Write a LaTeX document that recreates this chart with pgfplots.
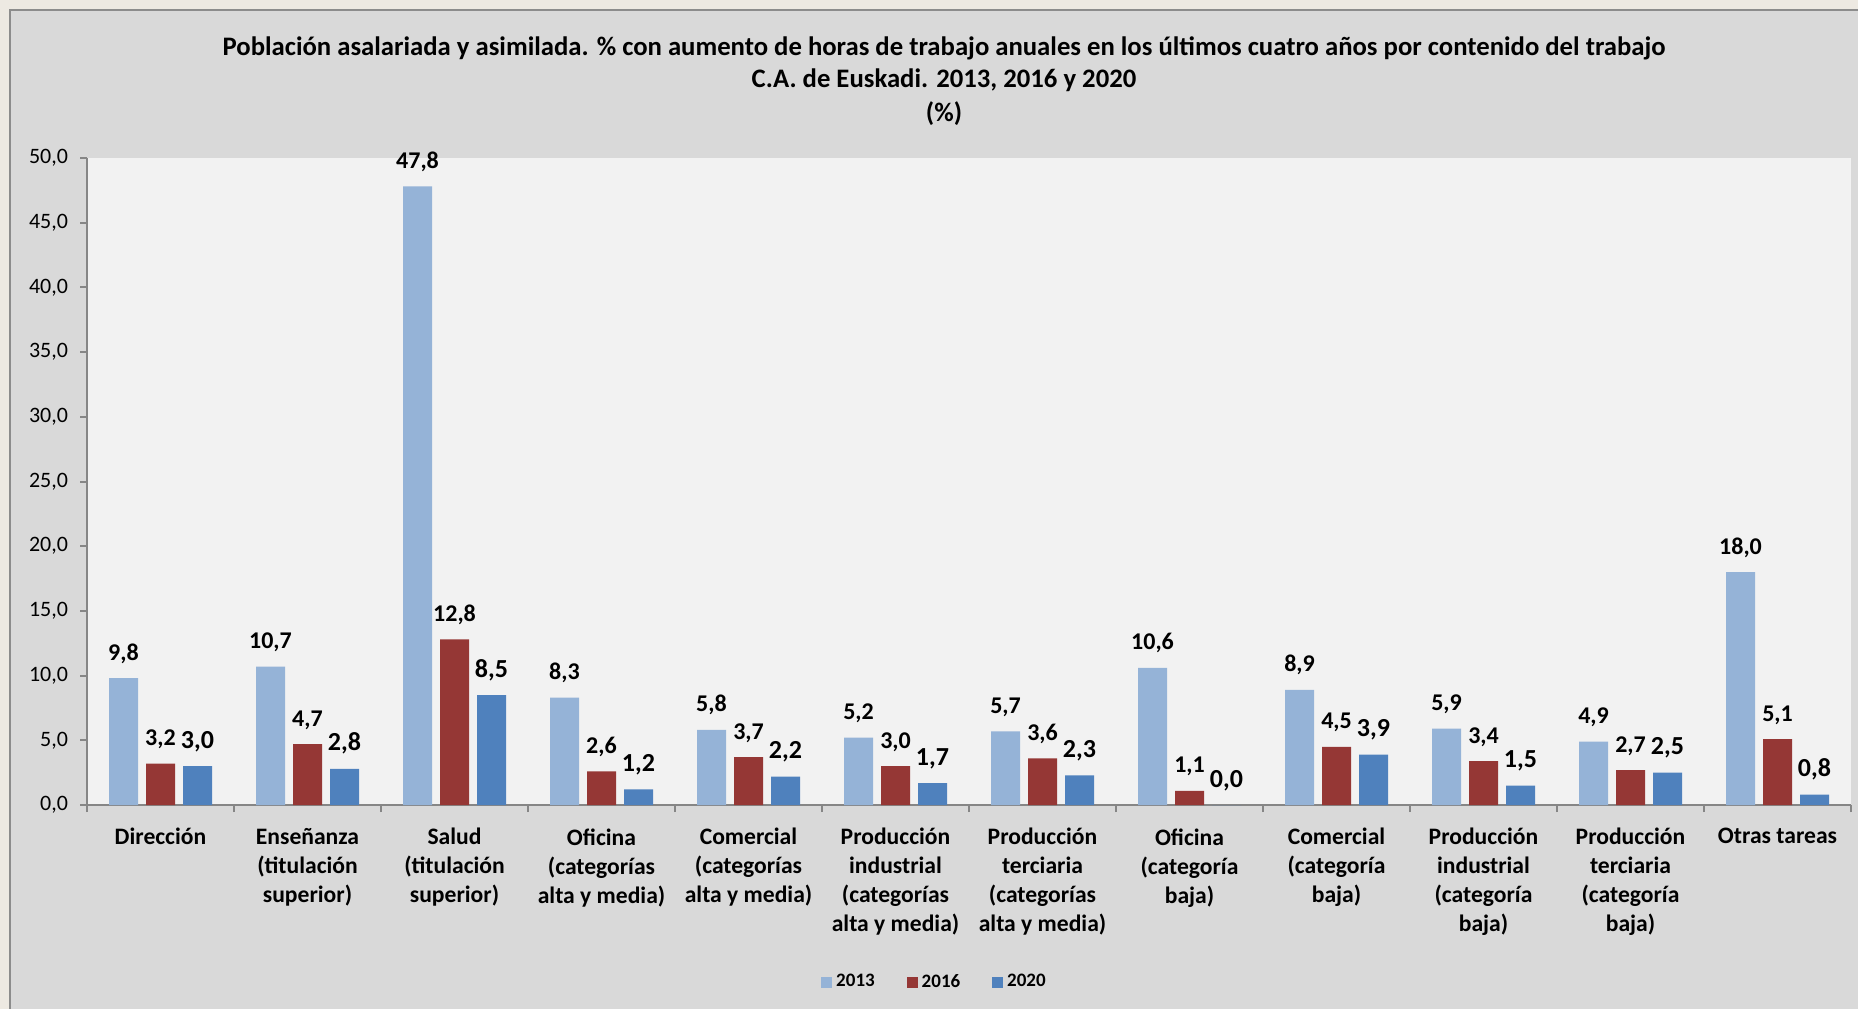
\documentclass[border=0pt]{standalone}
\usepackage{pgfplots}
\pgfplotsset{compat=1.18}
\usepackage{fontspec}
\setmainfont{Carlito}

\definecolor{pagebg}{HTML}{EDE9E2}
\definecolor{chartbg}{HTML}{D9D9D9}
\definecolor{framegray}{HTML}{8C8C8C}
\definecolor{plotbg}{HTML}{F2F2F2}
\definecolor{axisgray}{HTML}{868686}
\definecolor{c2013}{HTML}{95B3D7}
\definecolor{c2016}{HTML}{953735}
\definecolor{c2020}{HTML}{4F81BD}

\begin{document}
\begin{tikzpicture}
% page and chart area (1 px of the reference = 0.5bp)
\fill[pagebg] (0,0) rectangle (929bp,-504.5bp);
\filldraw[fill=chartbg, draw=framegray, line width=1bp] (5bp,-5bp) rectangle (940bp,-520bp);

\node[anchor=base, font=\bfseries\fontsize{13.35bp}{15bp}\selectfont] at (472bp,-27.5bp)
  {Población asalariada y asimilada. \% con aumento de horas de trabajo anuales en los últimos cuatro años por contenido del trabajo};
\node[anchor=base, font=\bfseries\fontsize{13.35bp}{15bp}\selectfont] at (472bp,-43.7bp)
  {C.A. de Euskadi. 2013, 2016 y 2020};
\node[anchor=base, font=\bfseries\fontsize{13.35bp}{15bp}\selectfont] at (472bp,-60.9bp)
  {(\%)};

\begin{axis}[
  at={(43.5bp,-402.5bp)}, anchor=south west,
  scale only axis, width=882bp, height=323.5bp,
  ybar=4bp, bar width=14.5bp,
  xmin=-0.5, xmax=11.5, ymin=0, ymax=50,
  axis lines*=left,
  axis line style={draw=axisgray, line width=1bp},
  axis background/.style={fill=plotbg},
  tick align=outside,
  major tick length=3.5bp, minor tick length=3.5bp,
  xtick={0,...,11},
  minor xtick={-0.5,0.5,...,11.5},
  x tick style={draw=none},
  minor x tick style={draw=axisgray, line width=1bp},
  y tick style={draw=axisgray, line width=1bp},
  ytick={0,5,...,50},
  xticklabels={
    Dirección,
    Enseñanza\\(titulación\\superior),
    Salud\\(titulación\\superior),
    Oficina\\(categorías\\alta y media),
    Comercial\\(categorías\\alta y media),
    Producción\\industrial\\(categorías\\alta y media),
    Producción\\terciaria\\(categorías\\alta y media),
    Oficina\\(categoría\\baja),
    Comercial\\(categoría\\baja),
    Producción\\industrial\\(categoría\\baja),
    Producción\\terciaria\\(categoría\\baja),
    Otras tareas},
  xticklabel style={align=center, anchor=north, inner sep=0pt, yshift=-8bp,
    font=\bfseries\fontsize{11.8bp}{14.5bp}\selectfont},
  yticklabel style={font=\fontsize{11bp}{12bp}\selectfont, xshift=-2.5bp},
  /pgf/number format/.cd, fixed, fixed zerofill, precision=1, use comma, assume math mode=true,
  /pgfplots/.cd,
  nodes near coords,
  every node near coord/.append style={anchor=base, yshift=9bp,
    font=\bfseries\fontsize{12bp}{14bp}\selectfont},
  legend style={at={(0.481,-0.2736)}, anchor=center, draw=none, fill=none,
    legend columns=3, font=\bfseries\fontsize{9.5bp}{11bp}\selectfont,
    /tikz/every even column/.append style={column sep=14bp}},
  legend image code/.code={\fill[#1] (0bp,-2.75bp) rectangle (5.5bp,2.75bp);},
]
\addplot[fill=c2013, draw=none] coordinates {
  (0,9.8) (1,10.7) (2,47.8) (3,8.3) (4,5.8) (5,5.2)
  (6,5.7) (7,10.6) (8,8.9) (9,5.9) (10,4.9) (11,18.0)};
\addlegendentry{2013}
\addplot[fill=c2016, draw=none] coordinates {
  (0,3.2) (1,4.7) (2,12.8) (3,2.6) (4,3.7) (5,3.0)
  (6,3.6) (7,1.1) (8,4.5) (9,3.4) (10,2.7) (11,5.1)};
\addlegendentry{2016}
\addplot[fill=c2020, draw=none,
  every node near coord/.append style={font=\bfseries\fontsize{13bp}{15bp}\selectfont}] coordinates {
  (0,3.0) (1,2.8) (2,8.5) (3,1.2) (4,2.2) (5,1.7)
  (6,2.3) (7,0.0) (8,3.9) (9,1.5) (10,2.5) (11,0.8)};
\addlegendentry{2020}
\end{axis}
\pgfresetboundingbox
\useasboundingbox (0,0) rectangle (929bp,-504.5bp);
\end{tikzpicture}
\end{document}
